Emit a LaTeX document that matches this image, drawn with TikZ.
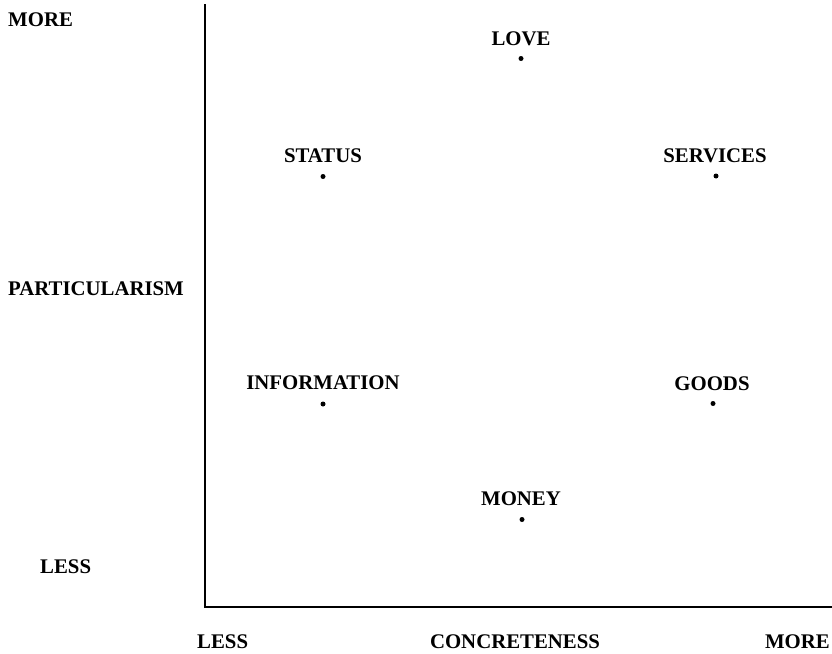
\documentclass[tikz,border=0pt]{standalone}
\usepackage{fontspec}
\setmainfont{Liberation Serif}
\begin{document}
\begin{tikzpicture}[x=1pt,y=-1pt,
  lbl/.style={font=\fontsize{20.8}{24}\selectfont\bfseries, inner sep=0pt, anchor=base},
  pt/.style={circle, fill=black, inner sep=0pt, minimum size=5pt},
  axis/.style={line width=2.5pt, line cap=rect}]
\useasboundingbox (0,0) rectangle (832,653);

% axes
\coordinate (top) at (205,5);
\coordinate (origin) at (205,607);
\coordinate (right) at (832,607);
\draw[axis] (top) -- (origin) -- (right);

% axis labels
\node[lbl, anchor=base west] (ymore) at (8,27) {MORE};
\node[lbl, anchor=base west] (ylabel) at (8,295) {PARTICULARISM};
\node[lbl, anchor=base west] (yless) at (40,573) {LESS};
\node[lbl, anchor=base west] (xless) at (197,648) {LESS};
\node[lbl] (xlabel) at (515,648) {CONCRETENESS};
\node[lbl, anchor=base east] (xmore) at (830,648) {MORE};

% resources
\node[lbl] (love) at (521,45) {LOVE};
\node[pt] (lovept) at (521,58.5) {};
\node[lbl] (status) at (323,162) {STATUS};
\node[pt] (statuspt) at (323,176.5) {};
\node[lbl] (services) at (715,162) {SERVICES};
\node[pt] (servicespt) at (716,176) {};
\node[lbl] (information) at (323,389) {INFORMATION};
\node[pt] (informationpt) at (323,404) {};
\node[lbl] (goods) at (712,390) {GOODS};
\node[pt] (goodspt) at (713,403.5) {};
\node[lbl] (money) at (521,505) {MONEY};
\node[pt] (moneypt) at (522,519.5) {};
\end{tikzpicture}
\end{document}
